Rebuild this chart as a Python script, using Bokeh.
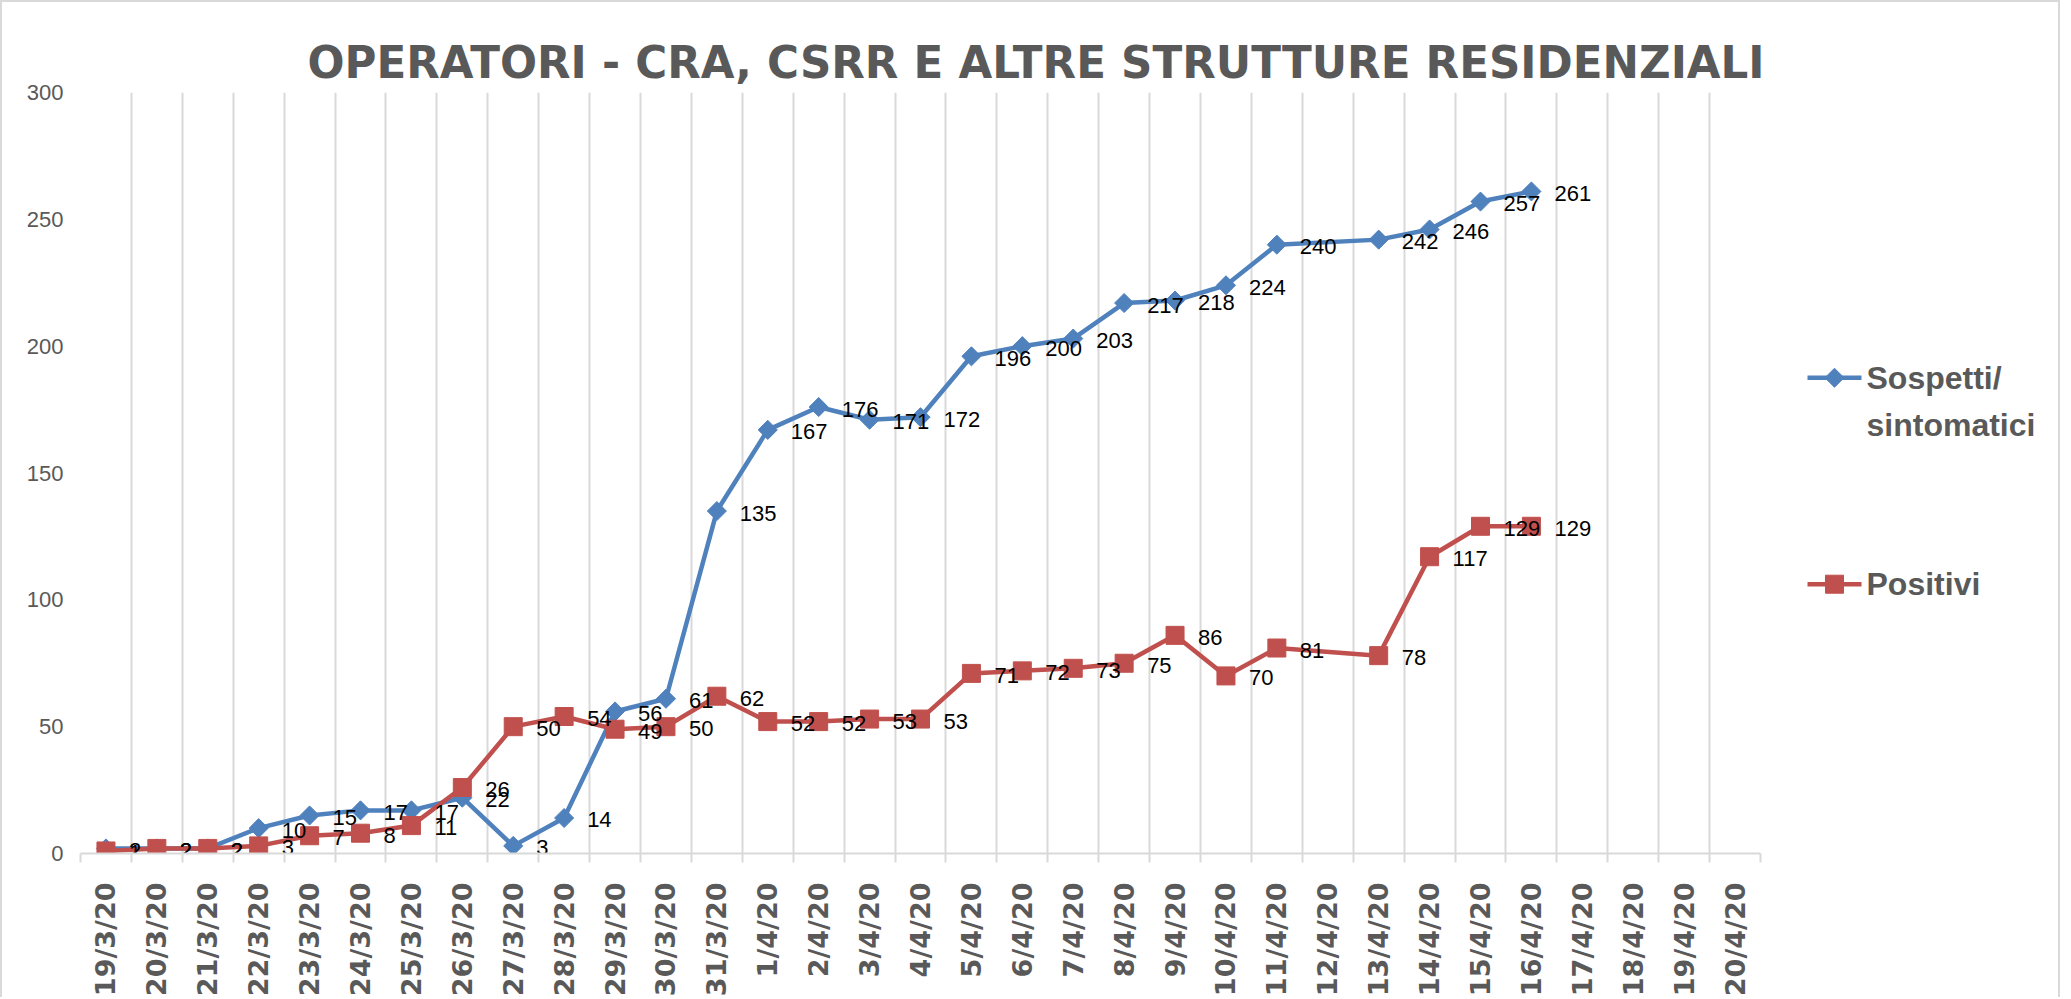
import numpy as np
from bokeh.plotting import figure
from bokeh.layouts import row
from bokeh.models import ColumnDataSource, FixedTicker, Range1d, Title
from bokeh.core.properties import value
from bokeh.embed import file_html
from bokeh.resources import INLINE

# ---------------- data ----------------
dates = ["19/3/20", "20/3/20", "21/3/20", "22/3/20", "23/3/20", "24/3/20", "25/3/20",
         "26/3/20", "27/3/20", "28/3/20", "29/3/20", "30/3/20", "31/3/20",
         "1/4/20", "2/4/20", "3/4/20", "4/4/20", "5/4/20", "6/4/20", "7/4/20", "8/4/20",
         "9/4/20", "10/4/20", "11/4/20", "12/4/20", "13/4/20", "14/4/20", "15/4/20",
         "16/4/20", "17/4/20", "18/4/20", "19/4/20", "20/4/20"]
sospetti = [2, 2, 2, 10, 15, 17, 17, 22, 3, 14, 56, 61, 135, 167, 176, 171, 172,
            196, 200, 203, 217, 218, 224, 240, None, 242, 246, 257, 261]
positivi = [1, 2, 2, 3, 7, 8, 11, 26, 50, 54, 49, 50, 62, 52, 52, 53, 53,
            71, 72, 73, 75, 86, 70, 81, None, 78, 117, 129, 129]
y_ticks = [0, 50, 100, 150, 200, 250, 300]
title_text = "OPERATORI - CRA, CSRR E ALTRE STRUTTURE RESIDENZIALI"
legend_lines = [["Sospetti/", "sintomatici"], ["Positivi"]]

BLUE = "#4f81bd"
RED = "#c0504d"
GRID = "#d9d9d9"
GREY = "#595959"
H = 997
FRAME_TOP, FRAME_BOTTOM = 90, 853   # canvas pixels

# ---------------- helpers ----------------
n = len(dates)
centers = np.arange(n) + 0.5
edges = np.arange(n + 1)


def series_source(vals):
    idx = [i for i, v in enumerate(vals) if v is not None]
    return ColumnDataSource(dict(x=centers[idx], y=[vals[i] for i in idx],
                                 lab=[str(vals[i]) for i in idx]))


src_s = series_source(sospetti)
src_p = series_source(positivi)

# ---------------- main chart ----------------
p = figure(width=1790, height=H, x_range=Range1d(0, n), y_range=Range1d(0, 300),
           output_backend="svg", toolbar_location=None,
           min_border_left=78, min_border_right=32, min_border_top=FRAME_TOP,
           min_border_bottom=H - FRAME_BOTTOM)
p.outline_line_color = None
p.background_fill_color = "white"
p.border_fill_color = "white"
p.styles = {"border-top": "2px solid #d9d9d9", "border-left": "2px solid #d9d9d9"}

p.add_layout(Title(text=title_text, align="left", offset=227, vertical_align="middle",
                   standoff=8, text_font="DejaVu Sans", text_font_style="bold",
                   text_font_size="43.6px", text_color=GREY), "above")

# x axis
p.xaxis.ticker = FixedTicker(ticks=list(centers), minor_ticks=list(edges))
p.xaxis.major_label_overrides = {float(c): d for c, d in zip(centers, dates)}
p.xaxis.major_label_orientation = np.pi / 2
p.xaxis.major_label_text_font = "DejaVu Sans"
p.xaxis.major_label_text_font_style = "bold"
p.xaxis.major_label_text_font_size = "27px"
p.xaxis.major_label_text_color = GREY
p.xaxis.major_tick_out = 0
p.xaxis.major_tick_in = 0
p.xaxis.major_tick_line_color = None
p.xaxis.minor_tick_out = 9
p.xaxis.minor_tick_in = 0
p.xaxis.minor_tick_line_color = GRID
p.xaxis.minor_tick_line_width = 2
p.xaxis.axis_line_color = GRID
p.xaxis.axis_line_width = 2
p.xaxis.major_label_standoff = 20

# y axis
p.yaxis.ticker = FixedTicker(ticks=y_ticks)
p.yaxis.axis_line_color = None
p.yaxis.major_tick_line_color = None
p.yaxis.minor_tick_line_color = None
p.yaxis.major_tick_out = 0
p.yaxis.major_tick_in = 0
p.yaxis.major_label_text_font = "Liberation Sans"
p.yaxis.major_label_text_font_size = "22px"
p.yaxis.major_label_text_color = GREY
p.yaxis.major_label_standoff = 17

# grid
p.xgrid.ticker = FixedTicker(ticks=list(edges))
p.xgrid.grid_line_color = GRID
p.xgrid.grid_line_width = 2
p.ygrid.visible = False

# series
p.line("x", "y", source=src_s, line_color=BLUE, line_width=4.5)
p.scatter("x", "y", source=src_s, marker="square", angle=np.pi / 4, size=13.5,
          fill_color=BLUE, line_color=BLUE)
p.line("x", "y", source=src_p, line_color=RED, line_width=4.5)
p.scatter("x", "y", source=src_p, marker="square", size=18,
          fill_color=RED, line_color=RED)

for src in (src_s, src_p):
    p.text("x", "y", text="lab", source=src, x_offset=23, y_offset=2,
           text_align="left", text_baseline="middle",
           text_font=value("Liberation Sans"), text_font_size="22px", text_color="black")

# ---------------- legend panel ----------------
# its frame is aligned with the chart frame; y coordinates are page pixels (downwards)
LW = 270
lg = figure(width=LW, height=H, x_range=Range1d(0, LW),
            y_range=Range1d(FRAME_BOTTOM + 2, FRAME_TOP + 2),
            output_backend="svg", toolbar_location=None, min_border=0)
lg.axis.visible = False
lg.grid.visible = False
lg.outline_line_color = None
lg.border_fill_color = "white"
lg.styles = {"border-top": "2px solid #d9d9d9", "border-right": "2px solid #d9d9d9"}

leg_rows_y = [378, 585]
leg_colors = [BLUE, RED]
leg_angles = [np.pi / 4, 0]
leg_sizes = [13.5, 18]
for ry, col, ang, sz, lines in zip(leg_rows_y, leg_colors, leg_angles, leg_sizes, legend_lines):
    lg.segment(x0=17, y0=ry, x1=71, y1=ry, line_color=col, line_width=4.5)
    lg.scatter(x=[44], y=[ry], marker="square", angle=ang, size=sz,
               fill_color=col, line_color=col)
    lg.text(x=[76] * len(lines), y=[ry + 47 * k for k in range(len(lines))], text=lines,
            text_align="left", text_baseline="middle",
            text_font=value("Liberation Sans"), text_font_style="bold",
            text_font_size="32px", text_color=GREY)

layout = row(p, lg)
open("out.html", "w").write(file_html(layout, INLINE))
